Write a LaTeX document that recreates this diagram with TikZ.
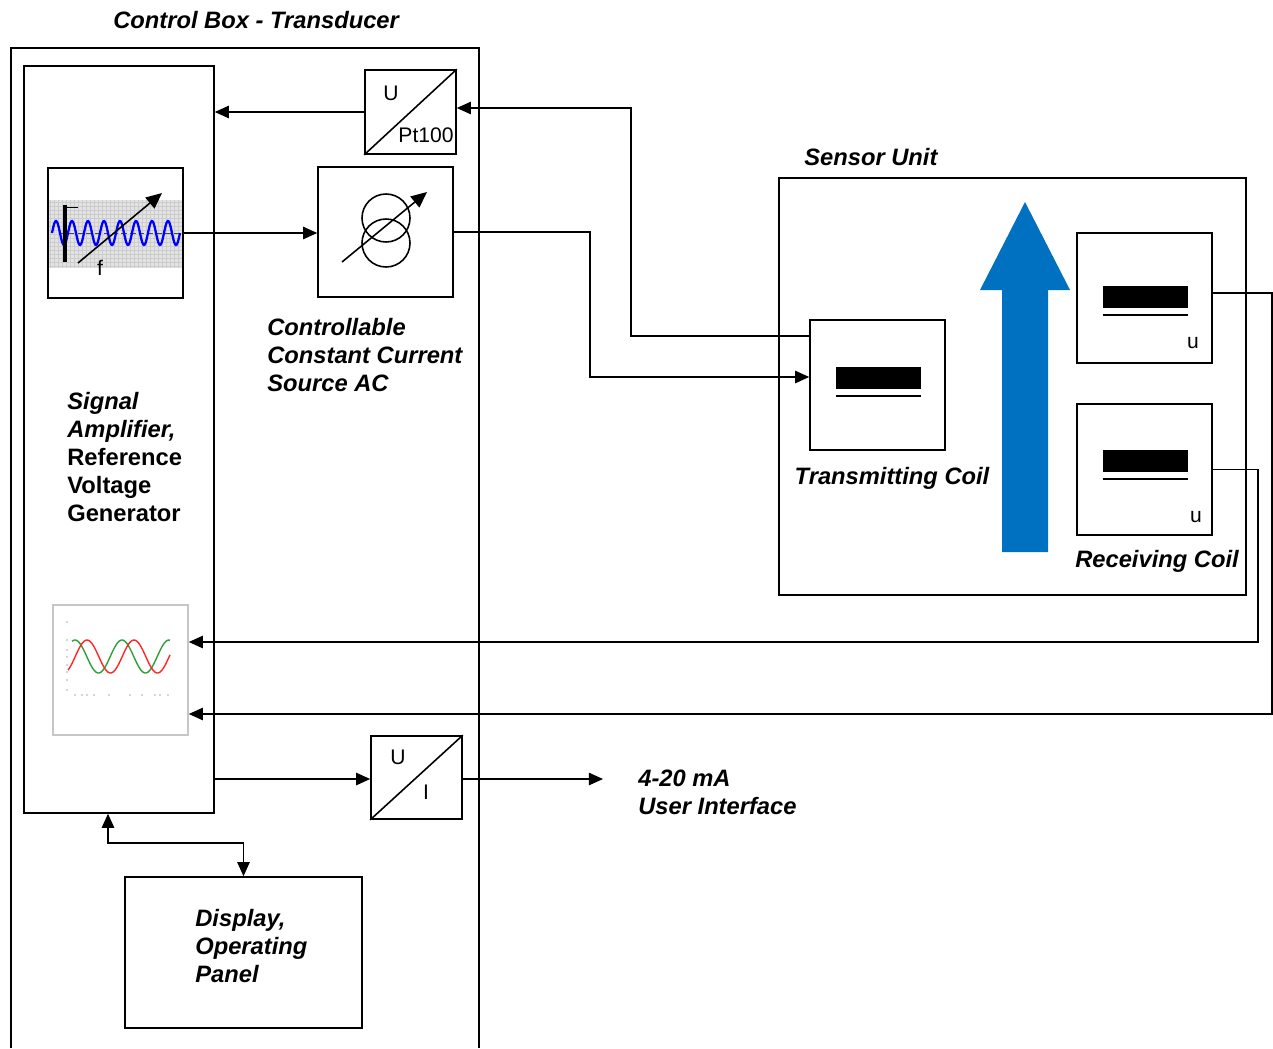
\documentclass[tikz,border=0pt]{standalone}
\usepackage{fontspec}
\setmainfont{Liberation Sans}
\usepackage{xcolor}
\usetikzlibrary{arrows.meta}
\definecolor{flux}{HTML}{0070C0}
\definecolor{wavegreen}{HTML}{2E9E3A}

\begin{document}
\begin{tikzpicture}[x=0.02cm, y=-0.02cm,
        box/.style={draw, black, line width=0.9pt, inner sep=0pt, minimum width=2.7cm, minimum height=2.6cm},
        lbl/.style={font=\fontsize{13.5}{15.9}\selectfont\bfseries\itshape, align=left, inner sep=0pt},
        bold/.style={font=\fontsize{13.5}{15.9}\selectfont\bfseries, align=left, inner sep=0pt},
        sml/.style={font=\fontsize{12}{14}\selectfont, inner sep=0pt},
        wire/.style={black, line width=0.9pt, >={Triangle[length=8pt, width=7pt]}, ->}]
        	\useasboundingbox (0,0) rectangle (1273,1048);
        	\draw[black, line width=0.9pt] (11,1048) -- (11,48) -- (479,48) -- (479,1048);
        	\node[lbl, anchor=west] (CB) at (113,20) {Control Box - Transducer};
        	\node[box, minimum width=3.8cm, minimum height=14.94cm] (A) at (119,439.5) {};
        	\node[bold, anchor=west] (AL) at (67,457) {\textit{Signal}\\\textit{Amplifier,}\\Reference\\Voltage\\Generator};
        	\fill[gray!22] (48,200) rectangle (183,268);
        	\foreach \i in {50,54,...,182} \draw[gray!40, very thin] (\i,200) -- (\i,268);
        	\foreach \j in {202,206,...,266} \draw[gray!40, very thin] (48,\j) -- (183,\j);
        	\node[box] (G) at (115.5,233) {};
        	\draw[black!70, densely dashed, very thin] (60,233) -- (183,233);
        	\draw[blue, line width=1.3pt, domain=52:180, samples=160, smooth] plot (\x,{233-12*sin(22.5*(\x-52))});
        	\draw[black, line width=2.5pt] (65,205) -- (65,262);
        	\draw[black, thin] (66,207) -- (78,207);
        	\draw[black, line width=0.9pt, -{Triangle[length=9pt, width=8pt]}] (78,263) -- (162,193);
        	\node[sml] (F) at (100,268) {f};
        	\node[box] (Q) at (385.5,232) {};
        	\draw[black, line width=0.9pt] (386,218) circle (24);
        	\draw[black, line width=0.9pt] (386,243) circle (24);
        	\draw[black, line width=0.9pt, -{Triangle[length=9pt, width=8pt]}] (342,262) -- (427,192);
        	\node[lbl, anchor=west] (QL) at (267,355) {Controllable\\Constant Current\\Source AC};
        	\node[box, minimum width=1.82cm, minimum height=1.68cm] (T) at (410.5,112) {};
        	\draw[black, line width=0.9pt] (T.south west) -- (T.north east);
        	\node[sml] (TU) at (391,93) {U};
        	\node[sml] (TP) at (426,135) {Pt100};
        	\node[box, draw=gray!45] (P) at (120.5,670) {};
        	\draw[wavegreen, thick, domain=72:170, samples=120, smooth] plot (\x,{656.5-16.5*cos(7.66*(\x-75))});
        	\draw[red!85, thick, domain=68:170, samples=120, smooth] plot (\x,{656.5-16.5*cos(7.66*(\x-87))});
        	\foreach \j in {622,640,650,657,665,672,680,690} \fill[black!70] (67,\j) circle (0.6);
        	\foreach \i in {75,82,87,94,109,130,142,155,160,168} \fill[black!70] (\i,695) circle (0.6);
        	\node[box, minimum width=1.82cm, minimum height=1.66cm] (U) at (416.5,777.5) {};
        	\draw[black, line width=0.9pt] (U.south west) -- (U.north east);
        	\node[sml] (UU) at (398,757) {U};
        	\node[sml] (UI) at (426,792) {I};
        	\coordinate (O) at (603,779);
        	\node[lbl, anchor=west] (OL) at (638,792) {4-20 mA\\User Interface};
        	\node[box, minimum width=4.74cm, minimum height=3.02cm] (D) at (243.5,952.5) {};
        	\node[lbl, anchor=west] (DL) at (195,946) {Display,\\Operating\\Panel};
        	\node[box, minimum width=9.34cm, minimum height=8.34cm] (S) at (1012.5,386.5) {};
        	\node[lbl, anchor=west] (SL) at (804,157) {Sensor Unit};
        	\fill[flux] (1002,552) -- (1002,290) -- (980,290) -- (1025,202) -- (1070,290) -- (1048,290) -- (1048,552) -- cycle;
        	\node[box] (TX) at (877.5,385) {};
        	\node[box] (RA) at (1144.5,298) {};
        	\node[box, minimum height=2.62cm] (RB) at (1144.5,469.5) {};
        	\foreach \c/\d in {TX/-18,RA/-12,RB/-19.5}{
        	   \fill[black] ([shift={(-42,\d)}]\c.center) rectangle ++(85,22);
        	   \draw[black, thick] ([shift={(-42,\d+29)}]\c.center) -- ++(85,0);
        	}
        	\node[lbl] (TXL) at (892,478) {Transmitting Coil};
        	\node[lbl] (RL) at (1157,561) {Receiving Coil};
        	\node[sml] (RAU) at (1193,343) {u};
        	\node[sml] (RBU) at (1196,517) {u};
        	\draw[wire] (T.west) -- (T.west -| A.east);
        	\draw[wire] ([yshift=0.98cm]TX.west) -- ++(-178,0) |- ([yshift=0.08cm]T.east);
        	\draw[wire] (G.east) -- (G.east -| Q.west);
        	\draw[wire] (Q.east) -- ++(136,0) |- ([yshift=0.16cm]TX.west);
        	\draw[wire] ([yshift=0.1cm]RA.east) -- ++(59,0) |- ([yshift=-0.88cm]P.east);
        	\draw[wire] (RB.east) -- ++(45,0) |- ([yshift=0.56cm]P.east);
        	\draw[wire] (A.east |- O) -- (U.west |- O);
        	\draw[wire] (U.east |- O) -- (O);
        	\draw[wire, <->] ([xshift=-0.22cm]A.south) -- ++(0,29) -| (D.north);
\end{tikzpicture}
\end{document}
